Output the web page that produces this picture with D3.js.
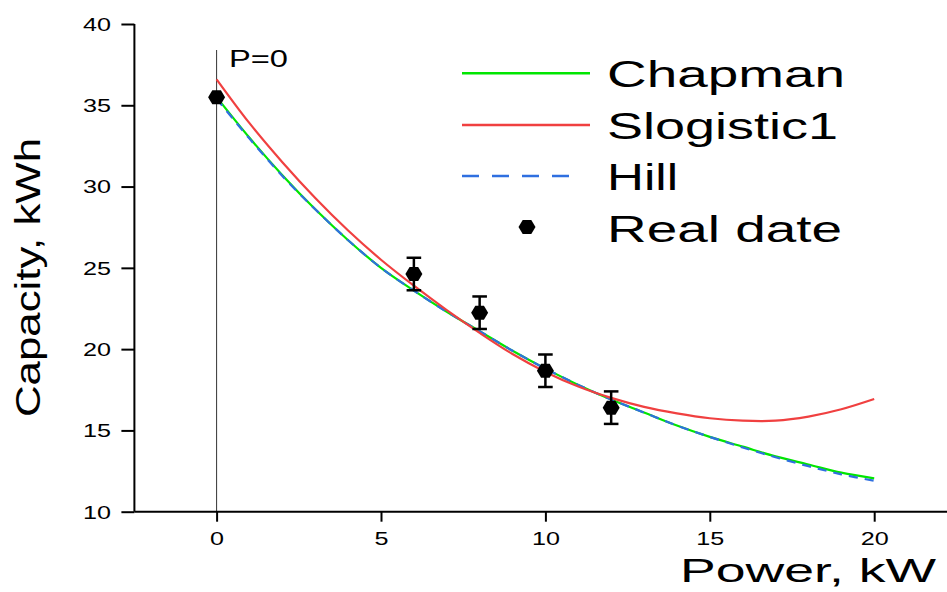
<!DOCTYPE html>
<html><head><meta charset="utf-8">
<script src="https://cdn.jsdelivr.net/npm/d3@7"></script>
<style>html,body{margin:0;padding:0;background:#fff;}svg{display:block;font-family:"Liberation Sans",Arial,sans-serif;}</style>
</head><body>
<svg id="c" width="947" height="592"></svg>
<script>
const xGrid = [0,1,2,3,4,5,6,7,8,9,10,11,12,13,14,15,16,17,18,19,20];
const chapman = [35.5,33.0,30.7,28.6,26.7,25.0,23.6,22.3,21.1,19.9,18.8,17.8,16.9,16.1,15.3,14.6,14.0,13.4,12.9,12.4,12.05];
const hill    = [35.4,32.95,30.65,28.6,26.7,25.0,23.6,22.3,21.1,19.9,18.8,17.8,16.9,16.1,15.3,14.6,13.95,13.35,12.8,12.3,11.9];
const slogistic = [36.6,33.9,31.5,29.3,27.3,25.5,23.9,22.4,21.0,19.7,18.6,17.7,17.0,16.45,16.05,15.75,15.6,15.6,15.85,16.3,16.93];
const realX = [0,6,8,10,12];
const realY = [35.5,24.62,22.24,18.67,16.4];
const realErr = [0,1.0,1.0,1.0,1.0];
const xTicks = [0,5,10,15,20];
const yTicks = [10,15,20,25,30,35,40];
const legendLabels = ["Chapman","Slogistic1","Hill","Real date"];

const svg = d3.select("#c");
const x = d3.scaleLinear().domain([-2.5,22.5]).range([134.4,956.4]);
const y = d3.scaleLinear().domain([10,40]).range([511.7,24]);
const FONT = '"Liberation Sans",Arial,sans-serif';

// P=0 vertical line
svg.append("line").attr("x1",x(0)).attr("x2",x(0)).attr("y1",50).attr("y2",y(10))
  .attr("stroke","#333").attr("stroke-width",1);
svg.append("text").attr("x",229).attr("y",67).attr("font-size",24).attr("font-family",FONT)
  .attr("textLength",59).attr("lengthAdjust","spacingAndGlyphs").text("P=0");

// Axes
const xMinor = [-2.5,2.5,7.5,12.5,17.5,22.5];
const yMinor = [12.5,17.5,22.5,27.5,32.5,37.5];
const gx = svg.append("g").attr("transform",`translate(0,${y(10)})`);
gx.call(d3.axisBottom(x).tickValues(xMinor).tickSize(5).tickFormat(""));
gx.call(d3.axisBottom(x).tickValues(xTicks).tickSize(10).tickFormat(d3.format("d")));
gx.selectAll("path.domain").attr("stroke-width",2).attr("d",`M${x(-2.5)},0H947`);
gx.selectAll(".tick line").attr("stroke-width",2);
gx.selectAll(".tick text").attr("y",33).attr("dy",0).attr("font-size",18).attr("font-family",FONT)
  .attr("fill","#000").attr("transform","scale(1.4,1)");

const gy = svg.append("g").attr("transform",`translate(${x(-2.5)},0)`);
gy.call(d3.axisLeft(y).tickValues(yMinor).tickSize(7).tickFormat(""));
gy.call(d3.axisLeft(y).tickValues(yTicks).tickSize(13).tickFormat(d3.format("d")));
gy.selectAll("path.domain").attr("stroke-width",2).attr("d",`M0,${y(10)}V${y(40)}`);
gy.selectAll(".tick line").attr("stroke-width",2);
gy.selectAll(".tick text").attr("x",-23.3/1.4).attr("dy","0.35em").attr("font-size",18).attr("font-family",FONT)
  .attr("fill","#000").attr("transform","scale(1.4,1)");

// Curves
const line = d3.line().x((d,i)=>x(xGrid[i])).y(d=>y(d)).curve(d3.curveCatmullRom);
svg.append("path").attr("d",line(chapman)).attr("fill","none").attr("stroke","#00e600").attr("stroke-width",2.2);
svg.append("path").attr("d",line(hill)).attr("fill","none").attr("stroke","#2f6fe0").attr("stroke-width",2.2).attr("stroke-dasharray","9,7");
svg.append("path").attr("d",line(slogistic)).attr("fill","none").attr("stroke","#f04040").attr("stroke-width",2.2);

// Real data: error bars + hexagons
const hex = "M-8.5,0L-4.3,-7L4.3,-7L8.5,0L4.3,7L-4.3,7Z";
const pts = realX.map((v,i)=>({x:v,y:realY[i],e:realErr[i]}));
const eb = svg.append("g").attr("stroke","#000").attr("stroke-width",2.5);
pts.filter(d=>d.e>0).forEach(d=>{
  eb.append("line").attr("x1",x(d.x)).attr("x2",x(d.x)).attr("y1",y(d.y+d.e)).attr("y2",y(d.y-d.e));
  eb.append("line").attr("x1",x(d.x)-7.3).attr("x2",x(d.x)+7.3).attr("y1",y(d.y+d.e)).attr("y2",y(d.y+d.e));
  eb.append("line").attr("x1",x(d.x)-7.3).attr("x2",x(d.x)+7.3).attr("y1",y(d.y-d.e)).attr("y2",y(d.y-d.e));
});
svg.append("g").selectAll("path").data(pts).join("path")
  .attr("d",hex).attr("transform",d=>`translate(${x(d.x)},${y(d.y)})`).attr("fill","#000");

// Legend
const lg = svg.append("g");
lg.append("line").attr("x1",462).attr("x2",590).attr("y1",73.3).attr("y2",73.3).attr("stroke","#00e600").attr("stroke-width",2.5);
lg.append("line").attr("x1",462).attr("x2",590).attr("y1",125).attr("y2",125).attr("stroke","#f04040").attr("stroke-width",2.5);
lg.append("line").attr("x1",462).attr("x2",576).attr("y1",176).attr("y2",176).attr("stroke","#2f6fe0").attr("stroke-width",2.5).attr("stroke-dasharray","17,13");
lg.append("path").attr("d",hex).attr("transform","translate(527,227)").attr("fill","#000");
const lgY = [87,139,190,242], lgW = [238,231,71,235];
legendLabels.forEach((t,i)=>{
  lg.append("text").attr("x",607).attr("y",lgY[i]).attr("font-size",36).attr("font-family",FONT)
    .attr("textLength",lgW[i]).attr("lengthAdjust","spacingAndGlyphs").text(t);
});

// Axis titles
svg.append("text").attr("transform","translate(40,277.5) rotate(-90)").attr("text-anchor","middle")
  .attr("font-size",35).attr("font-family",FONT).attr("textLength",279).attr("lengthAdjust","spacingAndGlyphs")
  .text("Capacity, kWh");
svg.append("text").attr("x",680).attr("y",582).attr("font-size",34).attr("font-family",FONT)
  .attr("textLength",256).attr("lengthAdjust","spacingAndGlyphs").text("Power, kW");
</script>
</body></html>
